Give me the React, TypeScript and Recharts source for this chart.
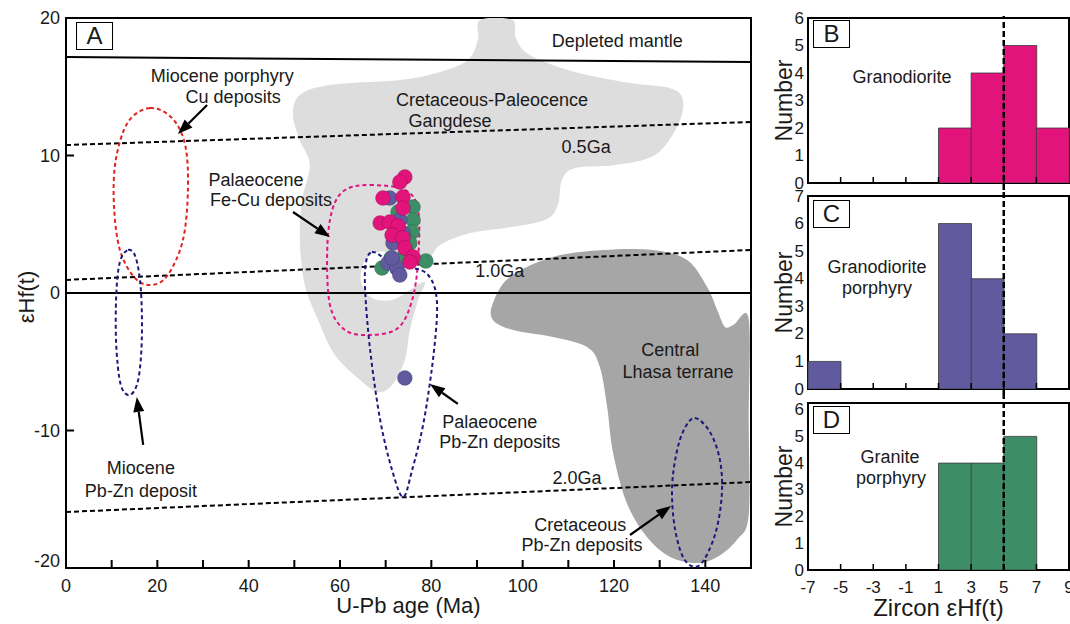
import React from 'react';
import {
  ScatterChart, Scatter, XAxis, YAxis, ReferenceArea,
  BarChart, Bar, ReferenceLine
} from 'recharts';

const FONT = 'Arial, "Liberation Sans", sans-serif';
const INK = '#1a1a1a';

// ---- panel A: outlines (age Ma, eHf) ----
const gangdese = [
  { x: 90.7, y: 19.85 }, { x: 97.7, y: 19.85 }, { x: 98.5, y: 18.55 }, { x: 101.6, y: 17.3 },
  { x: 111.5, y: 16.07 }, { x: 123.5, y: 15.27 }, { x: 132.3, y: 14.9 }, { x: 135.1, y: 14.04 },
  { x: 134.0, y: 12.22 }, { x: 129.0, y: 10.04 }, { x: 120.2, y: 9.31 }, { x: 111.5, y: 9.09 },
  { x: 108.6, y: 8.22 }, { x: 107.7, y: 6.4 }, { x: 104.9, y: 5.31 }, { x: 96.1, y: 4.73 },
  { x: 88.5, y: 4.36 }, { x: 81.9, y: 3.49 }, { x: 78.6, y: 2.25 }, { x: 73.1, y: 2.84 },
  { x: 68.3, y: 2.98 }, { x: 65.3, y: 2.25 }, { x: 64.6, y: 0.8 }, { x: 67.0, y: -0.36 },
  { x: 71.4, y: -0.51 }, { x: 75.3, y: 0.22 }, { x: 78.6, y: 0.8 }, { x: 77.1, y: -0.51 },
  { x: 75.3, y: -2.69 }, { x: 74.2, y: -4.87 }, { x: 71.4, y: -6.69 }, { x: 68.3, y: -7.2 },
  { x: 64.4, y: -6.33 }, { x: 58.9, y: -4.51 }, { x: 55.2, y: -1.96 }, { x: 52.3, y: 0.58 },
  { x: 51.2, y: 3.85 }, { x: 51.7, y: 6.76 }, { x: 53.4, y: 9.31 }, { x: 51.2, y: 11.13 },
  { x: 49.7, y: 12.95 }, { x: 51.2, y: 14.4 }, { x: 57.8, y: 15.13 }, { x: 73.1, y: 15.49 },
  { x: 81.9, y: 16.07 }, { x: 88.0, y: 16.95 }, { x: 90.2, y: 18.4 },
];

const centralLhasa = [
  { x: 93.5, y: -0.73 }, { x: 97.2, y: 1.16 }, { x: 106.6, y: 2.62 }, { x: 117.6, y: 3.13 },
  { x: 128.5, y: 3.13 }, { x: 136.0, y: 2.4 }, { x: 140.4, y: 0.44 }, { x: 142.6, y: -1.24 },
  { x: 144.3, y: -2.47 }, { x: 146.2, y: -2.3 }, { x: 149.5, y: -1.9 }, { x: 149.5, y: -9.24 },
  { x: 149.5, y: -16.15 }, { x: 146.9, y: -17.96 }, { x: 142.6, y: -19.2 }, { x: 138.2, y: -19.64 },
  { x: 132.3, y: -19.2 }, { x: 127.2, y: -17.75 }, { x: 122.8, y: -15.27 }, { x: 119.8, y: -11.64 },
  { x: 118.5, y: -8.29 }, { x: 116.9, y: -5.38 }, { x: 114.1, y: -3.93 }, { x: 106.6, y: -3.2 },
  { x: 97.9, y: -2.69 }, { x: 93.5, y: -1.96 },
];

const depletedMantle = [{ x: 0, y: 17.16 }, { x: 150, y: 16.8 }];
const crust05 = [{ x: 0, y: 10.76 }, { x: 150, y: 12.44 }];
const crust10 = [{ x: 0, y: 0.95 }, { x: 150, y: 3.13 }];
const crust20 = [{ x: 0, y: -15.93 }, { x: 150, y: -13.75 }];
const chur = [{ x: 0, y: 0 }, { x: 150, y: 0 }];

const mioceneCu = [
  { x: 18.4, y: 13.45 }, { x: 23.2, y: 12.73 }, { x: 26.1, y: 10.76 }, { x: 26.7, y: 7.49 },
  { x: 25.6, y: 3.85 }, { x: 22.3, y: 1.31 }, { x: 18.8, y: 0.58 }, { x: 15.1, y: 1.09 },
  { x: 11.8, y: 3.13 }, { x: 10.5, y: 6.4 }, { x: 10.9, y: 9.67 }, { x: 13.6, y: 12.44 },
];
const miocenePbZn = [
  { x: 13.6, y: 3.13 }, { x: 15.3, y: 2.55 }, { x: 16.4, y: 0.22 }, { x: 16.6, y: -3.42 },
  { x: 15.8, y: -6.33 }, { x: 14.0, y: -7.42 }, { x: 12.0, y: -6.69 }, { x: 11.0, y: -3.78 },
  { x: 11.0, y: -0.15 }, { x: 11.8, y: 2.25 },
];
const palaeoFeCu = [
  { x: 66.6, y: 7.85 }, { x: 74.2, y: 7.49 }, { x: 77.1, y: 6.04 }, { x: 77.1, y: 2.4 },
  { x: 75.8, y: -0.51 }, { x: 72.7, y: -2.55 }, { x: 66.6, y: -3.05 }, { x: 61.1, y: -2.69 },
  { x: 57.8, y: -0.87 }, { x: 57.2, y: 3.13 }, { x: 58.3, y: 6.04 }, { x: 61.1, y: 7.49 },
];
const palaeoPbZn = [
  { x: 67.0, y: 2.98 }, { x: 69.4, y: 2.55 }, { x: 72.0, y: 1.31 }, { x: 75.3, y: 1.82 },
  { x: 79.3, y: 1.31 }, { x: 81.2, y: -0.51 }, { x: 80.6, y: -4.15 }, { x: 78.4, y: -9.24 },
  { x: 75.8, y: -12.87 }, { x: 73.8, y: -14.84 }, { x: 71.4, y: -12.87 }, { x: 68.8, y: -9.24 },
  { x: 66.6, y: -4.15 }, { x: 65.5, y: 0.22 }, { x: 65.7, y: 2.25 },
];
const cretPbZn = [
  { x: 137.7, y: -9.09 }, { x: 141.0, y: -10.11 }, { x: 143.2, y: -12.15 }, { x: 143.6, y: -14.69 },
  { x: 142.1, y: -17.6 }, { x: 138.8, y: -19.78 }, { x: 135.5, y: -19.42 }, { x: 133.4, y: -17.24 },
  { x: 132.7, y: -14.33 }, { x: 133.6, y: -11.78 }, { x: 135.3, y: -9.96 },
];

// zircon analyses
const granitePorphyryPts = [
  { x: 76.0, y: 6.25 }, { x: 76.0, y: 5.31 }, { x: 75.8, y: 4.44 }, { x: 75.3, y: 3.64 },
  { x: 78.8, y: 2.33 }, { x: 69.2, y: 1.82 }, { x: 71.2, y: 2.55 }, { x: 73.8, y: 2.55 },
  { x: 72.7, y: 5.89 },
];
const granodioritePorphyryPts = [
  { x: 70.9, y: 6.91 }, { x: 73.1, y: 5.31 }, { x: 73.8, y: 4.36 }, { x: 71.6, y: 3.64 },
  { x: 70.5, y: 2.18 }, { x: 72.5, y: 1.82 }, { x: 73.1, y: 1.31 }, { x: 71.4, y: 2.55 },
  { x: 74.2, y: -6.18 },
];
const granodioritePts = [
  { x: 74.2, y: 8.44 }, { x: 73.1, y: 8.07 }, { x: 69.4, y: 6.91 }, { x: 73.8, y: 6.98 },
  { x: 73.8, y: 6.18 }, { x: 68.8, y: 5.09 }, { x: 70.9, y: 5.16 }, { x: 72.7, y: 4.87 },
  { x: 71.4, y: 4.22 }, { x: 73.8, y: 4.0 }, { x: 74.2, y: 3.27 }, { x: 76.0, y: 2.62 },
  { x: 75.3, y: 2.25 },
];

const arrows = [
  [{ x: 30.9, y: 13.67 }, { x: 24.5, y: 11.56 }],
  [{ x: 49.7, y: 5.89 }, { x: 57.8, y: 4.07 }],
  [{ x: 16.9, y: -11.05 }, { x: 15.5, y: -7.56 }],
  [{ x: 85.8, y: -8.07 }, { x: 79.7, y: -6.62 }],
  [{ x: 123.5, y: -17.6 }, { x: 132.5, y: -15.49 }],
];

const notes = [
  { x: 120.7, y: 18.33, t: 'Depleted mantle' },
  { x: 34.2, y: 15.78, t: 'Miocene porphyry' },
  { x: 36.6, y: 14.25, t: 'Cu deposits' },
  { x: 93.3, y: 14.04, t: 'Cretaceous-Paleocence' },
  { x: 84.1, y: 12.51, t: 'Gangdese' },
  { x: 113.9, y: 10.62, t: '0.5Ga' },
  { x: 41.6, y: 8.22, t: 'Palaeocene' },
  { x: 44.9, y: 6.76, t: 'Fe-Cu deposits' },
  { x: 95.0, y: 1.6, t: '1.0Ga' },
  { x: 132.3, y: -4.15, t: 'Central' },
  { x: 134.0, y: -5.75, t: 'Lhasa terrane' },
  { x: 92.8, y: -9.38, t: 'Palaeocene' },
  { x: 95.0, y: -10.84, t: 'Pb-Zn deposits' },
  { x: 16.4, y: -12.73, t: 'Miocene' },
  { x: 16.4, y: -14.4, t: 'Pb-Zn deposit' },
  { x: 111.9, y: -13.45, t: '2.0Ga' },
  { x: 112.6, y: -16.87, t: 'Cretaceous' },
  { x: 113.0, y: -18.33, t: 'Pb-Zn deposits' },
];

const xTicksA = [0, 10, 20, 30, 40, 50, 60, 70, 80, 90, 100, 110, 120, 130, 140, 150];
const yTicksA = [-20, -10, 0, 10, 20];

// ---- histograms B-D ----
const binMids = [-6, -4, -2, 0, 2, 4, 6, 8];
const binEdges = [-7, -5, -3, -1, 1, 3, 5, 7, 9];
const granodioriteCounts = [0, 0, 0, 0, 2, 4, 5, 2];
const granodioritePorphyryCounts = [1, 0, 0, 0, 6, 4, 2, 0];
const granitePorphyryCounts = [0, 0, 0, 0, 4, 4, 5, 0];

const PINK = '#e2137b';
const PURPLE = '#615a9f';
const GREEN = '#3d8e66';

type P = { x: number; y: number };

function closedPath(pts: P[]) {
  const n = pts.length;
  let d = `M${pts[0].x},${pts[0].y}`;
  for (let i = 0; i < n; i++) {
    const p0 = pts[(i - 1 + n) % n], p1 = pts[i], p2 = pts[(i + 1) % n], p3 = pts[(i + 2) % n];
    const c1x = p1.x + (p2.x - p0.x) / 6, c1y = p1.y + (p2.y - p0.y) / 6;
    const c2x = p2.x - (p3.x - p1.x) / 6, c2y = p2.y - (p3.y - p1.y) / 6;
    d += ` C${c1x},${c1y} ${c2x},${c2y} ${p2.x},${p2.y}`;
  }
  return d + 'Z';
}

const blob = (fill: string) => (p: any) => <path d={closedPath(p.points)} fill={fill} stroke="none" />;
const loop = (stroke: string) => (p: any) => (
  <path d={closedPath(p.points)} fill="none" stroke={stroke} strokeWidth={2} strokeDasharray="4 3" />
);
const straight = (dash?: string) => (p: any) => {
  const [a, b] = p.points;
  return <line x1={a.x} y1={a.y} x2={b.x} y2={b.y} stroke="#000" strokeWidth={2} strokeDasharray={dash} />;
};
const arrowLine = (p: any) => {
  const [t, h] = p.points;
  const len = Math.hypot(h.x - t.x, h.y - t.y);
  const ux = (h.x - t.x) / len, uy = (h.y - t.y) / len;
  const bx = h.x - ux * 15, by = h.y - uy * 15;
  const nx = -uy * 5.5, ny = ux * 5.5;
  return (
    <g>
      <line x1={t.x} y1={t.y} x2={bx} y2={by} stroke="#000" strokeWidth={2.2} />
      <polygon points={`${h.x},${h.y} ${bx + nx},${by + ny} ${bx - nx},${by - ny}`} fill="#000" />
    </g>
  );
};
const noMark = () => <g />;
const dot = (fill: string) => (p: any) => (
  <circle cx={p.cx} cy={p.cy} r={7.5} fill={fill} stroke="rgba(0,0,0,0.25)" strokeWidth={0.6} />
);
const noteText = (p: any) => (
  <text x={p.cx} y={p.cy} textAnchor="middle" dominantBaseline="central" fontSize={18} fill={INK} fontFamily={FONT}>
    {p.payload?.t}
  </text>
);

const xTickA = (p: any) => {
  const v = p.payload.value;
  const axisY = p.y - 8;
  return (
    <g>
      {v > 0 && v < 150 && <line x1={p.x} x2={p.x} y1={axisY} y2={axisY - 8} stroke="#000" strokeWidth={2} />}
      {v % 20 === 0 && v <= 140 && (
        <text x={p.x} y={axisY + 18} textAnchor="middle" dominantBaseline="central" fontSize={18} fill={INK} fontFamily={FONT}>{v}</text>
      )}
    </g>
  );
};
const yTickA = (p: any) => {
  const v = p.payload.value;
  const axisX = p.x + 6;
  return (
    <g>
      {v > -20 && v < 20 && <line x1={axisX} x2={axisX + 8} y1={p.y} y2={p.y} stroke="#000" strokeWidth={2} />}
      <text x={p.x} y={p.y + (v === -20 ? -7 : 0)} textAnchor="end" dominantBaseline="central" fontSize={18} fill={INK} fontFamily={FONT}>{v}</text>
    </g>
  );
};

const PanelA = () => (
  <ScatterChart width={760} height={624} margin={{ top: 18, right: 9, bottom: 0, left: 0 }}>
    <XAxis dataKey="x" type="number" domain={[0, 150]} ticks={xTicksA} interval={0} height={56}
      tickSize={0} tickMargin={8} tickLine={false} axisLine={false} tick={xTickA} allowDataOverflow
      label={{ value: 'U-Pb age (Ma)', position: 'insideBottom', offset: 11, fontSize: 22, fill: INK, fontFamily: FONT }} />
    <YAxis dataKey="y" type="number" domain={[-20, 20]} ticks={yTicksA} interval={0} width={66}
      tickSize={0} tickMargin={6} tickLine={false} axisLine={false} tick={yTickA} allowDataOverflow
      label={{
        content: (p: any) => {
          const vb = p.viewBox;
          return (
            <text transform={`translate(${vb.x + 26},${vb.y + vb.height / 2 + 4}) rotate(-90)`} textAnchor="middle"
              dominantBaseline="central" fontSize={22} fill={INK} fontFamily={FONT}>εHf(t)</text>
          );
        },
      }} />
    <Scatter data={gangdese} line={blob('#dddddd')} shape={noMark} isAnimationActive={false} />
    <Scatter data={centralLhasa} line={blob('#a6a6a6')} shape={noMark} isAnimationActive={false} />
    <Scatter data={depletedMantle} line={straight()} shape={noMark} isAnimationActive={false} />
    <Scatter data={chur} line={straight()} shape={noMark} isAnimationActive={false} />
    <Scatter data={crust05} line={straight('5 3')} shape={noMark} isAnimationActive={false} />
    <Scatter data={crust10} line={straight('5 3')} shape={noMark} isAnimationActive={false} />
    <Scatter data={crust20} line={straight('5 3')} shape={noMark} isAnimationActive={false} />
    <Scatter data={mioceneCu} line={loop('#e3231f')} shape={noMark} isAnimationActive={false} />
    <Scatter data={miocenePbZn} line={loop('#1c1a7c')} shape={noMark} isAnimationActive={false} />
    <Scatter data={palaeoFeCu} line={loop('#e0157d')} shape={noMark} isAnimationActive={false} />
    <Scatter data={palaeoPbZn} line={loop('#1c1a7c')} shape={noMark} isAnimationActive={false} />
    <Scatter data={cretPbZn} line={loop('#1c1a7c')} shape={noMark} isAnimationActive={false} />
    <Scatter data={granitePorphyryPts} shape={dot(GREEN)} isAnimationActive={false} />
    <Scatter data={granodioritePorphyryPts} shape={dot(PURPLE)} isAnimationActive={false} />
    <Scatter data={granodioritePts} shape={dot(PINK)} isAnimationActive={false} />
    {arrows.map((a, i) => (
      <Scatter key={i} data={a} line={arrowLine} shape={noMark} isAnimationActive={false} />
    ))}
    <Scatter data={notes} shape={noteText} isAnimationActive={false} />
    <ReferenceArea x1={0} x2={150} y1={-20} y2={20} fill="none" stroke="#000" strokeWidth={2} fillOpacity={0} />
  </ScatterChart>
);

const histXTick = (showLabel: boolean) => (p: any) => {
  const v = p.payload.value;
  const axisY = p.y;
  return (
    <g>
      {v > -7 && v < 9 && <line x1={p.x} x2={p.x} y1={axisY} y2={axisY - 6} stroke="#000" strokeWidth={1.5} />}
      {showLabel && (
        <text x={p.x} y={axisY + 17} textAnchor="middle" dominantBaseline="central" fontSize={17} fill={INK} fontFamily={FONT}>{v}</text>
      )}
    </g>
  );
};
const histYTick = (p: any) => (
  <text x={p.x} y={p.y} textAnchor="end" dominantBaseline="central" fontSize={17} fill={INK} fontFamily={FONT}>
    {p.payload.value}
  </text>
);

type HistProps = {
  counts: number[]; color: string; top: number; height: number;
  mTop: number; mBottom: number; axisH: number; yMax: number; yTicks: number[];
  lineTop: number; lineBottom: number; xLabels: boolean;
};

const Histogram = ({ counts, color, top, height, mTop, mBottom, axisH, yMax, yTicks, lineTop, lineBottom, xLabels }: HistProps) => {
  const data = binMids.map((m, i) => ({ bin: String(m), mid: m, n: counts[i] }));
  return (
    <div style={{ position: 'absolute', left: 760, top, width: 310, height }}>
      <BarChart width={310} height={height} data={data} margin={{ top: mTop, right: 1, bottom: mBottom, left: 0 }}
        barCategoryGap={0} barGap={0}>
        <XAxis xAxisId="num" dataKey="mid" type="number" domain={[-7, 9]} ticks={binEdges} interval={0}
          allowDataOverflow height={axisH} tickSize={0} tickMargin={0} tickLine={false} axisLine={false}
          tick={histXTick(xLabels)}
          label={xLabels ? { value: 'Zircon εHf(t)', position: 'insideBottom', offset: 8, fontSize: 24, fill: INK, fontFamily: FONT } : undefined} />
        <XAxis xAxisId="cat" dataKey="bin" type="category" hide height={0} />
        <YAxis type="number" domain={[0, yMax]} ticks={yTicks} interval={0} width={48} allowDataOverflow
          tickSize={0} tickMargin={4} tickLine={false} axisLine={false} tick={histYTick}
          label={{
            content: (p: any) => {
              const vb = p.viewBox;
              return (
                <text transform={`translate(${vb.x + 24},${vb.y + vb.height / 2}) rotate(-90)`} textAnchor="middle"
                  dominantBaseline="central" fontSize={23} fill={INK} fontFamily={FONT}>Number</text>
              );
            },
          }} />
        <Bar xAxisId="cat" dataKey="n" fill={color} stroke="#3a3a3a" strokeWidth={0.8} isAnimationActive={false} />
        <ReferenceArea xAxisId="num" x1={-7} x2={9} y1={0} y2={yMax} fill="none" fillOpacity={0} stroke="#000" strokeWidth={2} />
        <ReferenceLine xAxisId="num" segment={[{ x: 5, y: lineBottom }, { x: 5, y: lineTop }]} ifOverflow="visible"
          stroke="#000" strokeWidth={2.5} strokeDasharray="6 3" />
      </BarChart>
    </div>
  );
};

const boxStyle = (left: number, top: number): React.CSSProperties => ({
  position: 'absolute', left, top, width: 35, height: 26, border: '1.5px solid #000', background: '#fff',
  display: 'flex', alignItems: 'center', justifyContent: 'center', fontSize: 24, color: INK, lineHeight: 1,
});
const noteStyle = (cx: number, cy: number): React.CSSProperties => ({
  position: 'absolute', left: cx, top: cy, transform: 'translate(-50%, -50%)', fontSize: 18, color: INK,
  whiteSpace: 'nowrap', lineHeight: 1,
});

export default function App() {
  return (
    <div style={{ position: 'absolute', left: 0, top: 0, width: 1070, height: 624, background: '#fff', fontFamily: FONT, overflow: 'hidden' }}>
      <div style={{ position: 'absolute', left: 0, top: 0 }}>
        <PanelA />
      </div>
      <Histogram counts={granodioriteCounts} color={PINK} top={0} height={200} mTop={18} mBottom={15} axisH={2}
        yMax={6} yTicks={[0, 1, 2, 3, 4, 5, 6]} lineTop={6.07} lineBottom={-0.25} xLabels={false} />
      <Histogram counts={granodioritePorphyryCounts} color={PURPLE} top={180} height={226} mTop={16} mBottom={15} axisH={2}
        yMax={7} yTicks={[0, 1, 2, 3, 4, 5, 6, 7]} lineTop={7.22} lineBottom={-0.25} xLabels={false} />
      <Histogram counts={granitePorphyryCounts} color={GREEN} top={386} height={238} mTop={17} mBottom={0} axisH={54}
        yMax={6.25} yTicks={[0, 1, 2, 3, 4, 5, 6]} lineTop={6.51} lineBottom={0} xLabels />
      <div style={boxStyle(76, 22)}>A</div>
      <div style={boxStyle(813, 20)}>B</div>
      <div style={boxStyle(813, 200)}>C</div>
      <div style={boxStyle(813, 406)}>D</div>
      <div style={noteStyle(902, 77)}>Granodiorite</div>
      <div style={noteStyle(877, 267)}>Granodiorite</div>
      <div style={noteStyle(877, 288)}>porphyry</div>
      <div style={noteStyle(890, 457)}>Granite</div>
      <div style={noteStyle(891, 478)}>porphyry</div>
    </div>
  );
}
